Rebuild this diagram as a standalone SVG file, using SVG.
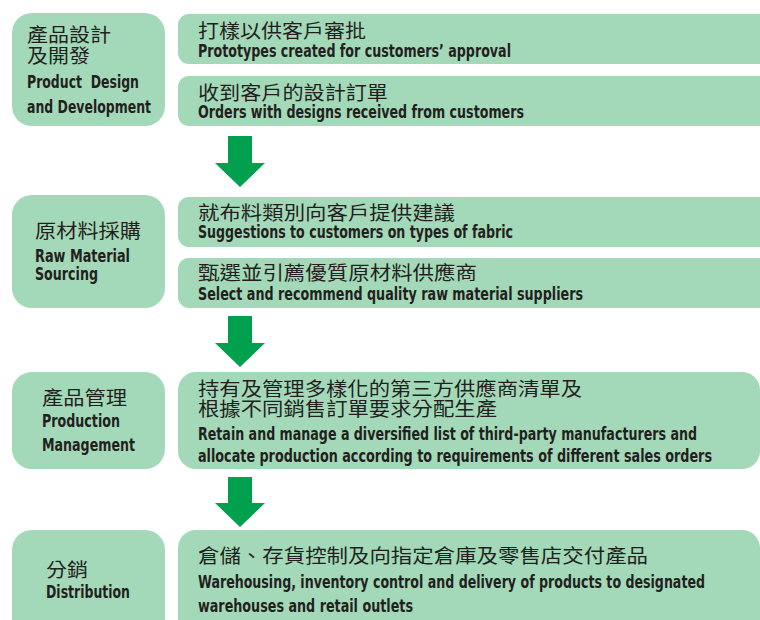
<svg xmlns="http://www.w3.org/2000/svg" width="760" height="620" viewBox="0 0 760 620">
<style>
.box{fill:#a3d9b9}
.zh{font-family:"Noto Sans CJK TC","Noto Sans CJK SC",sans-serif;font-size:19px;fill:#231f20}
.en{font-family:"DejaVu Sans Condensed","Liberation Sans Narrow","Liberation Sans",sans-serif;font-weight:bold;font-size:18px;fill:#231f20}
.arrow{fill:#00a04f}
</style>
<rect width="760" height="620" fill="#ffffff"/>
<g id="node-design">
<rect class="box" x="12" y="13" width="153" height="113" rx="20"/>
<text class="zh" x="27" y="42" textLength="84" lengthAdjust="spacingAndGlyphs">產品設計</text>
<text class="zh" x="27" y="63" textLength="63" lengthAdjust="spacingAndGlyphs">及開發</text>
<text class="en" x="27" y="88" xml:space="preserve" textLength="112" lengthAdjust="spacingAndGlyphs">Product  Design</text>
<text class="en" x="27" y="113" textLength="124" lengthAdjust="spacingAndGlyphs">and Development</text>
</g>
<g id="node-prototypes">
<rect class="box" x="178" y="14" width="610" height="50" rx="11"/>
<text class="zh" x="198" y="38" textLength="168" lengthAdjust="spacingAndGlyphs">打樣以供客戶審批</text>
<text class="en" x="198" y="57" textLength="313" lengthAdjust="spacingAndGlyphs">Prototypes created for customers’ approval</text>
</g>
<g id="node-orders">
<rect class="box" x="178" y="76" width="610" height="50" rx="11"/>
<text class="zh" x="198" y="100" textLength="190" lengthAdjust="spacingAndGlyphs">收到客戶的設計訂單</text>
<text class="en" x="198" y="118" textLength="326" lengthAdjust="spacingAndGlyphs">Orders with designs received from customers</text>
</g>
<g id="node-sourcing">
<rect class="box" x="12" y="195" width="153" height="113" rx="20"/>
<text class="zh" x="35" y="238" textLength="106" lengthAdjust="spacingAndGlyphs">原材料採購</text>
<text class="en" x="35" y="262" textLength="95" lengthAdjust="spacingAndGlyphs">Raw Material</text>
<text class="en" x="35" y="280" textLength="63" lengthAdjust="spacingAndGlyphs">Sourcing</text>
</g>
<g id="node-fabric">
<rect class="box" x="178" y="197" width="610" height="50" rx="11"/>
<text class="zh" x="198" y="220" textLength="257" lengthAdjust="spacingAndGlyphs">就布料類別向客戶提供建議</text>
<text class="en" x="198" y="238" textLength="315" lengthAdjust="spacingAndGlyphs">Suggestions to customers on types of fabric</text>
</g>
<g id="node-suppliers">
<rect class="box" x="178" y="258" width="610" height="50" rx="11"/>
<text class="zh" x="198" y="280" textLength="279" lengthAdjust="spacingAndGlyphs">甄選並引薦優質原材料供應商</text>
<text class="en" x="198" y="300" textLength="385" lengthAdjust="spacingAndGlyphs">Select and recommend quality raw material suppliers</text>
</g>
<g id="node-production">
<rect class="box" x="12" y="372" width="153" height="97" rx="20"/>
<text class="zh" x="42" y="405" textLength="85" lengthAdjust="spacingAndGlyphs">產品管理</text>
<text class="en" x="42" y="427" textLength="78" lengthAdjust="spacingAndGlyphs">Production</text>
<text class="en" x="42" y="451" textLength="93" lengthAdjust="spacingAndGlyphs">Management</text>
</g>
<g id="node-manage">
<rect class="box" x="178" y="372" width="582" height="97" rx="18"/>
<text class="zh" x="198" y="396" textLength="384" lengthAdjust="spacingAndGlyphs">持有及管理多樣化的第三方供應商清單及</text>
<text class="zh" x="198" y="416" textLength="299" lengthAdjust="spacingAndGlyphs">根據不同銷售訂單要求分配生產</text>
<text class="en" x="198" y="440" textLength="499" lengthAdjust="spacingAndGlyphs">Retain and manage a diversified list of third-party manufacturers and</text>
<text class="en" x="198" y="462" textLength="514" lengthAdjust="spacingAndGlyphs">allocate production according to requirements of different sales orders</text>
</g>
<g id="node-distribution">
<rect class="box" x="12" y="530" width="153" height="120" rx="20"/>
<text class="zh" x="46" y="577" textLength="42" lengthAdjust="spacingAndGlyphs">分銷</text>
<text class="en" x="46" y="598" textLength="84" lengthAdjust="spacingAndGlyphs">Distribution</text>
</g>
<g id="node-warehousing">
<rect class="box" x="178" y="530" width="582" height="120" rx="18"/>
<text class="zh" x="198" y="563" textLength="450" lengthAdjust="spacingAndGlyphs">倉儲、存貨控制及向指定倉庫及零售店交付產品</text>
<text class="en" x="198" y="588" textLength="507" lengthAdjust="spacingAndGlyphs">Warehousing, inventory control and delivery of products to designated</text>
<text class="en" x="198" y="612" textLength="215" lengthAdjust="spacingAndGlyphs">warehouses and retail outlets</text>
</g>
<g id="connectors">
<polygon class="arrow" points="228,136 252,136 252,163 265,163 240,187 215,163 228,163"/>
<polygon class="arrow" points="228,316 252,316 252,343 265,343 240,367 215,343 228,343"/>
<polygon class="arrow" points="228,477 252,477 252,503 265,503 240,527 215,503 228,503"/>
</g>
</svg>
